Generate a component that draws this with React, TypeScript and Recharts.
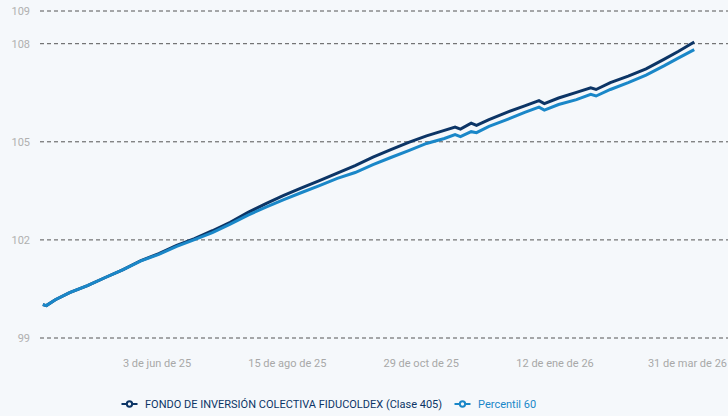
import React from "react";
import { LineChart, Line, XAxis, YAxis, CartesianGrid, Legend } from "recharts";

const dates = [
  "2025-03-31", "2025-04-02", "2025-04-07", "2025-04-15", "2025-04-25", "2025-05-05",
  "2025-05-15", "2025-05-25", "2025-06-04", "2025-06-14", "2025-06-24", "2025-07-04",
  "2025-07-14", "2025-07-24", "2025-08-03", "2025-08-13", "2025-08-23", "2025-09-02",
  "2025-09-12", "2025-09-22", "2025-10-02", "2025-10-12", "2025-10-22", "2025-11-01",
  "2025-11-11", "2025-11-17", "2025-11-20", "2025-11-26", "2025-11-29", "2025-12-06",
  "2025-12-16", "2025-12-26", "2026-01-03", "2026-01-06", "2026-01-14", "2026-01-24",
  "2026-02-01", "2026-02-04", "2026-02-12", "2026-02-22", "2026-03-04", "2026-03-14",
  "2026-03-22", "2026-03-31",
];

const fondo = [
  100.02, 99.99, 100.17, 100.39, 100.6, 100.85,
  101.09, 101.37, 101.58, 101.83, 102.04, 102.28,
  102.54, 102.84, 103.11, 103.36, 103.59, 103.81,
  104.04, 104.27, 104.53, 104.76, 104.98, 105.18,
  105.35, 105.45, 105.39, 105.57, 105.5, 105.68,
  105.9, 106.1, 106.26, 106.17, 106.34, 106.51,
  106.65, 106.6, 106.81, 107.01, 107.23, 107.52,
  107.76, 108.05,
];

const percentil60 = [
  100.02, 99.99, 100.17, 100.39, 100.6, 100.85,
  101.09, 101.36, 101.56, 101.8, 102.01, 102.22,
  102.48, 102.76, 103.0, 103.23, 103.45, 103.66,
  103.88, 104.06, 104.3, 104.52, 104.73, 104.95,
  105.1, 105.22, 105.16, 105.31, 105.28, 105.47,
  105.68, 105.9, 106.06, 105.97, 106.14, 106.29,
  106.45, 106.4, 106.6, 106.81, 107.04, 107.32,
  107.56, 107.82,
];

const xTickDates = ["2025-06-03", "2025-08-15", "2025-10-29", "2026-01-12", "2026-03-31"];
const xTickLabels = ["3 de jun de 25", "15 de ago de 25", "29 de oct de 25", "12 de ene de 26", "31 de mar de 26"];
const xDomainDates = ["2025-03-29T10:00:00Z", "2026-04-18T22:00:00Z"];
const yTicks = [99, 102, 105, 108, 109];
const seriesNames = ["FONDO DE INVERSIÓN COLECTIVA FIDUCOLDEX (Clase 405)", "Percentil 60"];

const data = dates.map((d, i) => ({ t: Date.parse(d), fondo: fondo[i], p60: percentil60[i] }));
const xTicks = xTickDates.map((d) => Date.parse(d));
const xDomain = xDomainDates.map((d) => Date.parse(d));

const FONT = "Roboto, 'Noto Sans', sans-serif";
const CHART_W = 728;

function XTick(props: any) {
  const { x, y, payload, index } = props;
  const label = xTickLabels[xTicks.indexOf(payload.value)] ?? "";
  const isLast = index === xTicks.length - 1;
  const tx = isLast ? CHART_W - 1 : x;
  return (
    <text
      x={tx}
      y={y}
      dy="0.71em"
      textAnchor={isLast ? "end" : "middle"}
      fill="#a8a8a8"
      fontSize={11}
      fontFamily={FONT}
    >
      {label}
    </text>
  );
}

function LegendContent(props: any) {
  const { payload } = props;
  return (
    <ul style={{ margin: 0, padding: 0, listStyle: "none", whiteSpace: "nowrap" }}>
      {(payload || []).map((entry: any, i: number) => (
        <li key={i} style={{ display: "inline-block", marginRight: 12, verticalAlign: "middle" }}>
          <svg width={17} height={16} viewBox="0 0 32 32" style={{ display: "inline-block", verticalAlign: "middle", marginRight: 7 }}>
            <path
              strokeWidth={4}
              fill="none"
              stroke={entry.color}
              d="M0,16h10.667A5.333,5.333,0,1,1,21.333,16H32M21.333,16A5.333,5.333,0,1,1,10.667,16"
            />
          </svg>
          <span style={{ color: entry.color, fontSize: 11, fontFamily: FONT, verticalAlign: "middle" }}>{entry.value}</span>
        </li>
      ))}
    </ul>
  );
}

export default function App() {
  return (
    <div style={{ position: "absolute", left: 0, top: 0, width: 728, height: 416, background: "#f5f8fb", fontFamily: FONT }}>
      <LineChart width={CHART_W} height={416} data={data} margin={{ top: 11, right: 0, bottom: 0, left: 0 }}>
        <CartesianGrid horizontal vertical={false} stroke="#555" strokeDasharray="4 3" />
        <XAxis
          dataKey="t"
          type="number"
          domain={xDomain}
          allowDataOverflow
          ticks={xTicks}
          interval={0}
          axisLine={false}
          tickLine={false}
          tickSize={6}
          tickMargin={15}
          height={62}
          tick={<XTick />}
        />
        <YAxis
          type="number"
          domain={[99, 109]}
          ticks={yTicks}
          interval={0}
          axisLine={false}
          tickLine={false}
          width={40}
          tickSize={6}
          tickMargin={4}
          tick={{ fill: "#b0b0b0", fontSize: 11, fontFamily: FONT }}
        />
        <Legend
          verticalAlign="bottom"
          align="left"
          content={<LegendContent />}
          wrapperStyle={{ left: 121, top: 396, width: "auto", fontFamily: FONT, fontSize: 11 }}
        />
        <Line
          name={seriesNames[0]}
          dataKey="fondo"
          type="linear"
          stroke="#0c3566"
          strokeWidth={3}
          dot={false}
          isAnimationActive={false}
        />
        <Line
          name={seriesNames[1]}
          dataKey="p60"
          type="linear"
          stroke="#1a87c8"
          strokeWidth={3}
          dot={false}
          isAnimationActive={false}
        />
      </LineChart>
    </div>
  );
}
